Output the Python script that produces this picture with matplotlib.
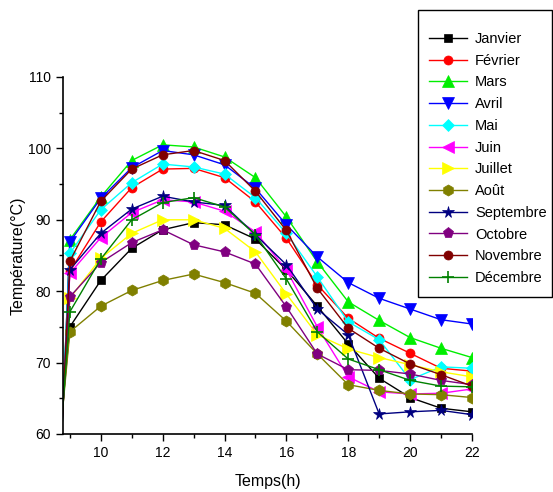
import numpy as np
import matplotlib.pyplot as plt
from matplotlib.patches import Rectangle
from matplotlib.ticker import MultipleLocator

plt.rcParams['font.family'] = ['Liberation Sans', 'DejaVu Sans']

# heures de mesure (le premier point, à 8h30, tombe hors du cadre)
heures = [8.5, 9, 10, 11, 12, 13, 14, 15, 16, 17, 18, 19, 20, 21, 22]

janvier   = [51.0, 75.0, 81.5, 86.0, 88.6, 89.6, 89.3, 87.3, 83.0, 77.9, 72.6, 67.8, 65.1, 63.6, 63.1]
fevrier   = [40.0, 82.8, 89.7, 94.5, 97.1, 97.2, 95.9, 92.5, 87.4, 80.9, 76.2, 73.4, 71.3, 69.2, 68.8]
mars      = [34.5, 87.2, 93.2, 98.3, 100.5, 100.2, 98.8, 95.9, 90.4, 84.1, 78.5, 75.9, 73.5, 72.0, 70.7]
avril     = [35.0, 86.9, 93.0, 97.3, 99.7, 99.1, 97.7, 94.4, 89.3, 84.8, 81.2, 79.0, 77.5, 76.0, 75.4]
mai       = [37.5, 85.3, 91.4, 95.2, 97.8, 97.4, 96.4, 93.1, 88.1, 82.0, 75.7, 73.2, 67.6, 69.4, 69.2]
juin      = [41.0, 82.5, 87.5, 91.0, 92.8, 92.5, 91.2, 88.3, 83.0, 75.0, 68.0, 65.9, 65.6, 65.7, 66.3]
juillet   = [45.0, 79.0, 84.6, 88.1, 90.0, 90.0, 88.8, 85.5, 79.6, 73.9, 71.9, 70.7, 69.7, 68.7, 68.0]
aout      = [51.0, 74.3, 77.9, 80.1, 81.5, 82.4, 81.2, 79.7, 75.8, 71.2, 66.9, 66.1, 65.6, 65.5, 65.1]
septembre = [40.0, 83.0, 88.1, 91.5, 93.3, 92.5, 92.0, 87.9, 83.7, 77.5, 73.9, 62.8, 63.1, 63.3, 62.7]
octobre   = [44.5, 79.2, 84.0, 86.8, 88.6, 86.5, 85.5, 83.8, 77.8, 71.2, 69.0, 68.9, 68.4, 67.5, 66.9]
novembre  = [38.0, 84.2, 92.6, 97.1, 99.1, 99.7, 98.3, 94.0, 88.5, 80.4, 74.8, 72.0, 69.8, 68.3, 66.7]
decembre  = [47.5, 77.1, 84.5, 90.0, 92.4, 93.1, 91.8, 87.9, 81.7, 74.3, 70.5, 69.0, 67.5, 66.7, 66.6]

mois = ['Janvier', 'Février', 'Mars', 'Avril', 'Mai', 'Juin', 'Juillet',
        'Août', 'Septembre', 'Octobre', 'Novembre', 'Décembre']
series = [janvier, fevrier, mars, avril, mai, juin, juillet,
          aout, septembre, octobre, novembre, decembre]
couleurs = ['#000000', '#ff0000', '#00ee00', '#0000ff', '#00ffff', '#ff00ff',
            '#ffff00', '#808000', '#000080', '#800080', '#800000', '#008000']
marqueurs = ['s', 'o', '^', 'v', 'D', '<', '>', 'h', '*', 'p', 'o', '+']
tailles = [5.5, 6.5, 8, 8, 6.5, 8, 8, 8, 8.5, 8, 6.5, 8]

fig = plt.figure(figsize=(5.53, 4.92), dpi=100)
ax = fig.add_axes([0.114, 0.118, 0.7395, 0.7255])

for nom, y, c, m, s in zip(mois, series, couleurs, marqueurs, tailles):
    ax.plot(heures, y, color=c, marker=m, markersize=s, linewidth=1,
            markeredgewidth=1.2 if m == '+' else 0.5,
            markeredgecolor=c, label=nom)

ax.set_xlim(8.78, 22)
ax.set_ylim(60, 110)
ax.xaxis.set_major_locator(MultipleLocator(2))
ax.xaxis.set_minor_locator(MultipleLocator(1))
ax.yaxis.set_major_locator(MultipleLocator(10))
ax.yaxis.set_minor_locator(MultipleLocator(5))
ax.tick_params(which='major', direction='out', length=5, width=1, labelsize=10)
ax.tick_params(which='minor', direction='out', length=3, width=1)
for cote in ['top', 'right']:
    ax.spines[cote].set_visible(False)
for cote in ['left', 'bottom']:
    ax.spines[cote].set_linewidth(1.2)

ax.set_xlabel('Temps(h)', fontsize=11.5, labelpad=10)
ax.set_ylabel('Température(°C)', fontsize=11.5, labelpad=2)

# légende sans cadre, cadre dessiné à part (marges plus larges en hauteur)
leg = fig.legend(loc='upper left', bbox_to_anchor=(0.776, 0.935),
                 fontsize=10.5, frameon=False, handlelength=2.6,
                 labelspacing=0.53, borderpad=0, handletextpad=0.55,
                 borderaxespad=0)
fig.patches.append(Rectangle((0.756, 0.396), 0.242, 0.583,
                             transform=fig.transFigure, fill=False,
                             edgecolor='black', linewidth=1, zorder=5))

fig.savefig('out.png', dpi=100)
